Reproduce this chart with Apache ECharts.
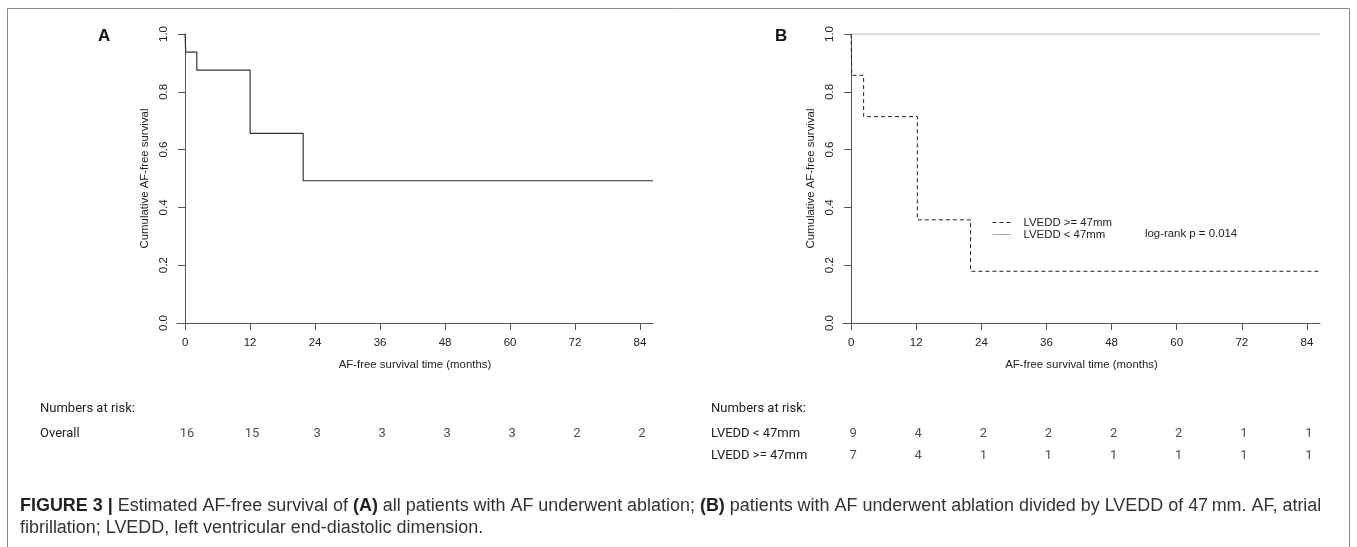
<!DOCTYPE html>
<html><head><meta charset="utf-8">
<script src="https://cdn.jsdelivr.net/npm/echarts@6/dist/echarts.min.js"></script>
<style>html,body{margin:0;padding:0;background:#fff}#c{width:1357px;height:547px}</style>
</head><body><div id="c"></div>
<script>
// ---- data ----
const xTicks = [0, 12, 24, 36, 48, 60, 72, 84];
const overallCurve = [[0, 1], [0.1, 0.9375], [2.15, 0.875], [12, 0.65625], [21.8, 0.4922], [86.4, 0.4922]];
const highCurve = [[0, 1], [0.1, 0.857], [2.3, 0.714], [12.2, 0.357], [22, 0.179], [86.4, 0.179]];
const lowCurve = [[0, 1], [86.4, 1]];
const riskRowsA = ['Overall'];
const riskOverall = [16, 15, 3, 3, 3, 3, 2, 2];
const riskRowsB = ['LVEDD < 47mm', 'LVEDD >= 47mm'];
const riskLow = [9, 4, 2, 2, 2, 2, 1, 1];
const riskHigh = [7, 4, 1, 1, 1, 1, 1, 1];
const legendNames = ['LVEDD >= 47mm', 'LVEDD < 47mm'];

// ---- styles ----
const AX = '#555';
const TXT = '#222';
const F = 'Liberation Sans, Arial, Helvetica, sans-serif';
const NARROW = 'Roboto, "Liberation Sans", sans-serif';
const RFS = 13;

function plotX(gi) {
  return {
    type: 'value', gridIndex: gi, min: -1.5, max: 86.4,
    name: 'AF-free survival time (months)', nameLocation: 'middle', nameGap: 36,
    nameTextStyle: { fontFamily: F, fontSize: 11.4, color: TXT },
    axisLine: { show: true, onZero: false, lineStyle: { color: AX, width: 1 } },
    axisTick: { show: true, length: 7, customValues: xTicks, lineStyle: { color: AX, width: 1 } },
    axisLabel: { customValues: xTicks, margin: 14, fontFamily: F, fontSize: 11.5, color: TXT },
    splitLine: { show: false }
  };
}
function plotY(gi) {
  return {
    type: 'value', gridIndex: gi, min: 0, max: 1, interval: 0.2,
    name: 'Cumulative AF-free survival', nameLocation: 'middle', nameGap: 27,
    nameTextStyle: { fontFamily: F, fontSize: 11.4, color: TXT },
    axisLine: { show: true, onZero: true, lineStyle: { color: AX, width: 1 } },
    axisTick: { show: true, length: 7, lineStyle: { color: AX, width: 1 } },
    axisLabel: { rotate: 90, margin: 7, fontFamily: F, fontSize: 11.5, color: TXT, formatter: v => v.toFixed(1) },
    splitLine: { show: false }
  };
}
function riskX(gi) {
  return { type: 'value', gridIndex: gi, min: -1.5, max: 86.4, show: false };
}
function riskY(gi, rows, margin) {
  return {
    type: 'category', gridIndex: gi, data: rows, inverse: true,
    axisLine: { show: false }, axisTick: { show: false }, splitLine: { show: false },
    axisLabel: { align: 'left', margin: margin, fontFamily: NARROW, fontSize: RFS, color: TXT }
  };
}
function riskSeries(gi, row, vals) {
  return {
    type: 'scatter', xAxisIndex: gi, yAxisIndex: gi, symbolSize: 2,
    itemStyle: { color: 'rgba(0,0,0,0)' }, silent: true,
    data: xTicks.map((x, i) => [x, row, vals[i]]),
    label: { show: true, position: 'inside', offset: [2, 0], formatter: p => String(p.value[2]),
      fontFamily: NARROW, fontSize: RFS, color: TXT }
  };
}

const chart = echarts.init(document.getElementById('c'), null, { renderer: 'canvas' });
chart.setOption({
  backgroundColor: '#fff',
  animation: false,
  grid: [
    { left: 177, top: 34, width: 476, height: 289 },
    { left: 843, top: 34, width: 477, height: 289 },
    { left: 177, top: 423, width: 476, height: 22 },
    { left: 843, top: 423, width: 477, height: 43 }
  ],
  xAxis: [plotX(0), plotX(1), riskX(2), riskX(3)],
  yAxis: [plotY(0), plotY(1), riskY(2, riskRowsA, 137), riskY(3, riskRowsB, 132)],
  legend: {
    data: legendNames, orient: 'vertical', left: 992, top: 217, padding: 0,
    itemWidth: 18, itemHeight: 8, itemGap: 1,
    itemStyle: { opacity: 0 },
    lineStyle: { width: 1 },
    textStyle: { fontFamily: F, fontSize: 11.4, color: TXT, padding: [0, 0, 0, 8] }
  },
  series: [
    { type: 'line', name: 'Overall', xAxisIndex: 0, yAxisIndex: 0, step: 'end', symbol: 'none',
      data: overallCurve, lineStyle: { color: '#333', width: 1.2 } },
    { type: 'line', name: 'LVEDD < 47mm', xAxisIndex: 1, yAxisIndex: 1, step: 'end', symbol: 'none',
      data: lowCurve, lineStyle: { color: '#a8a8a8', width: 1.2 }, itemStyle: { color: '#a8a8a8' } },
    { type: 'line', name: 'LVEDD >= 47mm', xAxisIndex: 1, yAxisIndex: 1, step: 'end', symbol: 'none',
      data: highCurve, lineStyle: { color: '#222', width: 1, type: [4, 3] }, itemStyle: { color: '#222' } },
    riskSeries(2, riskRowsA[0], riskOverall),
    riskSeries(3, riskRowsB[0], riskLow),
    riskSeries(3, riskRowsB[1], riskHigh)
  ],
  graphic: [
    { type: 'rect', shape: { x: 7.5, y: 8.5, width: 1342, height: 560 }, silent: true,
      style: { fill: 'none', stroke: '#8a8a8a', lineWidth: 1 } },
    { type: 'text', left: 98, top: 28, style: { text: 'A', font: 'bold 17px ' + F, fill: '#111' } },
    { type: 'text', left: 775, top: 28, style: { text: 'B', font: 'bold 17px ' + F, fill: '#111' } },
    { type: 'text', x: 1145, y: 234, style: { text: 'log-rank p = 0.014', font: '11.4px ' + F, fill: TXT, textVerticalAlign: 'middle' } },
    { type: 'text', x: 40, y: 409, style: { text: 'Numbers at risk:', font: RFS + 'px ' + NARROW, fill: TXT, textVerticalAlign: 'middle' } },
    { type: 'text', x: 711, y: 409, style: { text: 'Numbers at risk:', font: RFS + 'px ' + NARROW, fill: TXT, textVerticalAlign: 'middle' } },
    { type: 'text', x: 20, y: 495, style: {
        text: '{b|FIGURE 3 |} Estimated AF-free survival of {b|(A)} all patients with AF underwent ablation; {b|(B)} patients with AF underwent ablation divided by LVEDD of 47\u2009mm. AF, atrial\nfibrillation; LVEDD, left ventricular end-diastolic dimension.',
        font: '17.95px ' + F, fill: '#333', lineHeight: 22,
        rich: { b: { fontWeight: 'bold', fontSize: 17.95, fontFamily: F, fill: '#222', lineHeight: 22 } }
      } }
  ]
});
</script></body></html>
